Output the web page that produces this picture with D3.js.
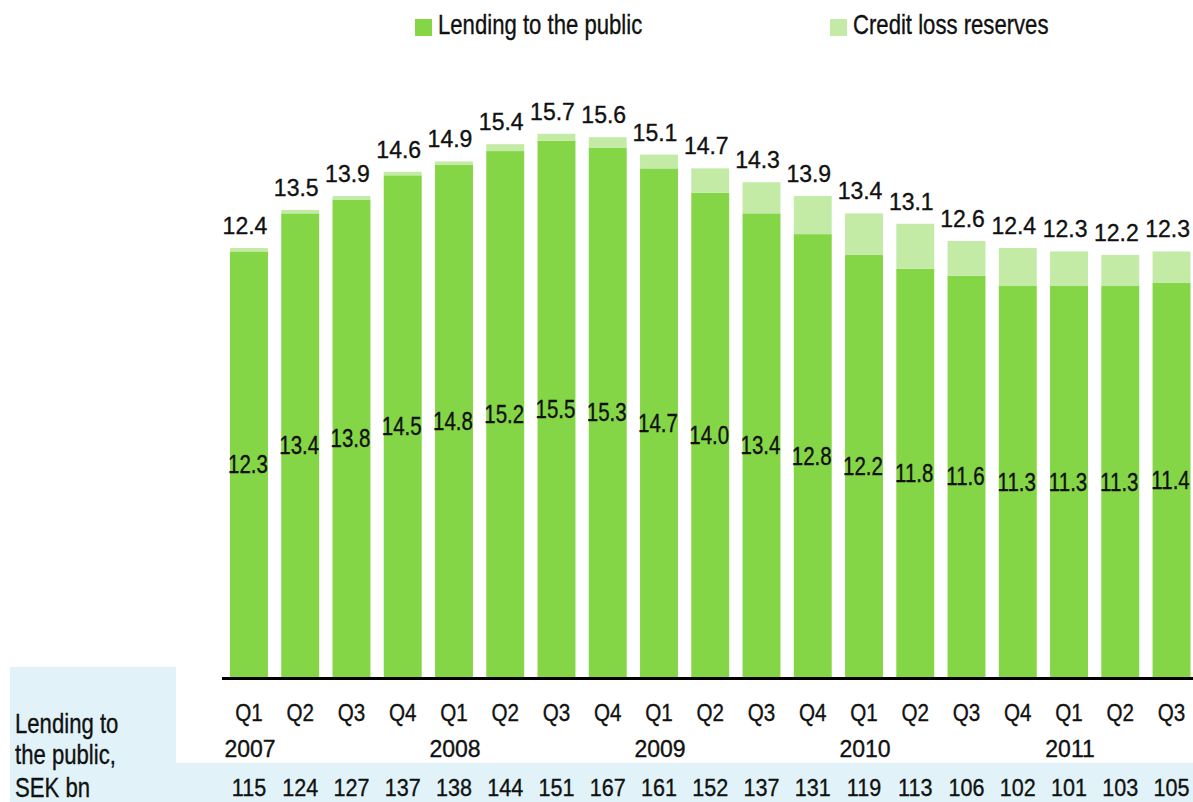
<!DOCTYPE html>
<html>
<head>
<meta charset="utf-8">
<script src="https://cdn.jsdelivr.net/npm/d3@7"></script>
<style>
  html, body { margin: 0; padding: 0; background: #fff; }
  svg { display: block; }
  text { fill: #111; stroke: #111; stroke-width: 0.35px; }
</style>
</head>
<body>
<div id="chart"></div>
<script>
// ---- Data ----
const quarters = ["Q1","Q2","Q3","Q4","Q1","Q2","Q3","Q4","Q1","Q2","Q3","Q4","Q1","Q2","Q3","Q4","Q1","Q2","Q3"];
const years = ["2007","","","","2008","","","","2009","","","","2010","","","","2011","",""];
const totalValues = [12.4,13.5,13.9,14.6,14.9,15.4,15.7,15.6,15.1,14.7,14.3,13.9,13.4,13.1,12.6,12.4,12.3,12.2,12.3];
const lendingValues = [12.3,13.4,13.8,14.5,14.8,15.2,15.5,15.3,14.7,14.0,13.4,12.8,12.2,11.8,11.6,11.3,11.3,11.3,11.4];
const sekBn = [115,124,127,137,138,144,151,167,161,152,137,131,119,113,106,102,101,103,105];
const seriesNames = ["Lending to the public", "Credit loss reserves"];
const rowLabelLines = ["Lending to", "the public,", "SEK bn"];

// ---- Setup ----
const W = 1193, H = 802;
const cLend = "#84d646", cRes = "#c3eba6", cBlue = "#e1f3f8";
const font = "'Liberation Sans', Arial, sans-serif";
const SX = 0.82; // condensed look

const svg = d3.select("#chart").append("svg").attr("width", W).attr("height", H)
  .style("font-family", font);

const ids = quarters.map((q, i) => i);
const x = d3.scaleBand().domain(ids).range([230, 1190.5]).paddingInner(0.26).paddingOuter(0);
const y = d3.scaleLinear().domain([0, 16]).range([677, 677 - 16 * 34.6]);
const cx = i => x(i) + x.bandwidth() / 2;

function ctext(sel, fx, fy, size, sx) {
  return sel.attr("transform", (d, i) => `translate(${fx(d, i)},${fy(d, i)}) scale(${sx},1)`)
    .style("font-size", size + "px");
}

// bottom table background
svg.append("rect").attr("x", 10).attr("y", 667).attr("width", 166).attr("height", 135).attr("fill", cBlue);
svg.append("rect").attr("x", 10).attr("y", 763).attr("width", W - 10).attr("height", 39).attr("fill", cBlue);

// bars
const g = svg.append("g");
g.selectAll("rect.lend").data(ids).join("rect").attr("class", "lend")
  .attr("x", i => x(i)).attr("width", x.bandwidth())
  .attr("y", i => y(lendingValues[i])).attr("height", i => y(0) - y(lendingValues[i]))
  .attr("fill", cLend);
g.selectAll("rect.res").data(ids).join("rect").attr("class", "res")
  .attr("x", i => x(i)).attr("width", x.bandwidth())
  .attr("y", i => y(totalValues[i])).attr("height", i => y(lendingValues[i]) - y(totalValues[i]))
  .attr("fill", cRes);

// total labels
ctext(g.selectAll("text.tot").data(ids).join("text").attr("class", "tot").attr("text-anchor", "middle"),
  i => cx(i) - 4, i => y(totalValues[i]) - 14, 23, 1)
  .text(i => totalValues[i].toFixed(1));

// lending labels (middle of segment)
ctext(g.selectAll("text.inl").data(ids).join("text").attr("class", "inl").attr("text-anchor", "middle"),
  i => cx(i) - 1, i => (y(0) + y(lendingValues[i])) / 2 + 9, 25, SX)
  .text(i => lendingValues[i].toFixed(1));

// axis
const axis = d3.axisBottom(x).tickSize(0).tickFormat(i => quarters[i]);
const ax = svg.append("g").attr("transform", "translate(0,678.5)").call(axis);
ax.select(".domain").remove();
ax.selectAll(".tick text").attr("dy", 0).attr("y", 0)
  .attr("transform", `translate(0,42.5) scale(0.86,1)`)
  .style("font-family", font).style("font-size", "24px").attr("fill", "#111");
svg.append("line").attr("x1", 222).attr("x2", W).attr("y1", 678.5).attr("y2", 678.5)
  .attr("stroke", "#000").attr("stroke-width", 3);

// years
ctext(svg.selectAll("text.yr").data(ids.filter(i => years[i])).join("text").attr("class", "yr").attr("text-anchor", "middle"),
  i => cx(i) + 1, () => 757, 23, 1)
  .text(i => years[i]);

// SEK bn row
ctext(svg.selectAll("text.sek").data(ids).join("text").attr("class", "sek").attr("text-anchor", "middle"),
  i => cx(i), () => 796, 24.5, 0.88)
  .text(i => sekBn[i]);

// row label
ctext(svg.selectAll("text.rl").data(rowLabelLines).join("text").attr("class", "rl"),
  () => 15, (d, i) => [733, 764, 797][i], 27, SX)
  .text(d => d);

// legend
const legX = [415, 830];
const leg = svg.selectAll("g.leg").data(seriesNames).join("g").attr("class", "leg")
  .attr("transform", (d, i) => `translate(${legX[i]},19)`);
leg.append("rect").attr("width", 17).attr("height", 17).attr("fill", (d, i) => i === 0 ? cLend : cRes);
leg.append("text").attr("transform", `translate(23,15) scale(${SX},1)`)
  .style("font-size", "27px")
  .text(d => d);
</script>
</body>
</html>
